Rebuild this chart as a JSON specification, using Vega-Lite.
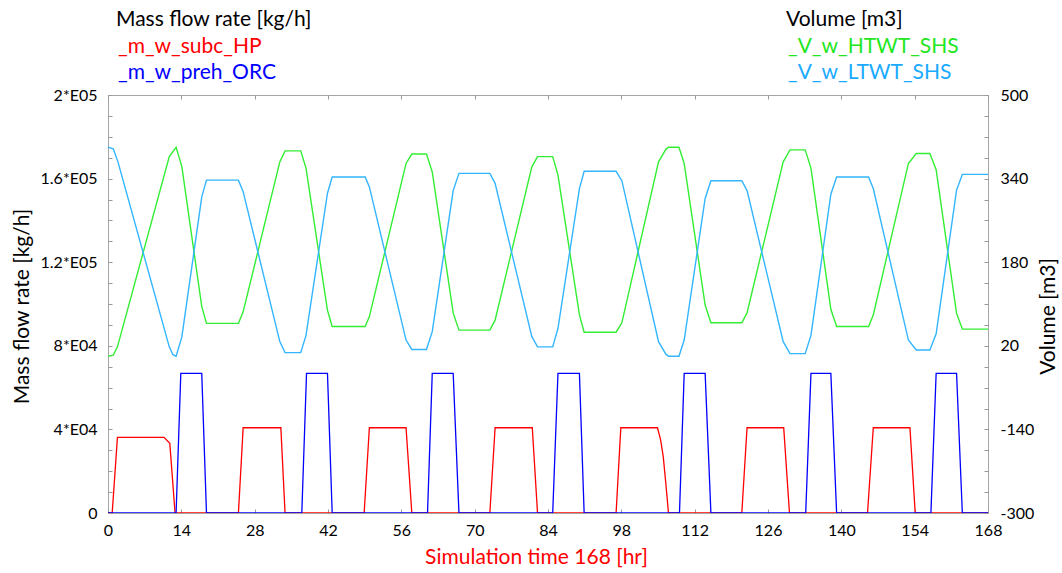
{
  "$schema": "https://vega.github.io/schema/vega-lite/v6.json",
  "width": 880,
  "height": 418,
  "autosize": {"type": "none"},
  "padding": {"left": 108, "top": 95, "right": 74, "bottom": 60},
  "background": "white",
  "config": {
    "font": "Lato",
    "view": {"stroke": "#a6a6a6", "strokeWidth": 1},
    "axis": {
      "domain": false,
      "grid": false,
      "labelFont": "Lato",
      "labelFontSize": 16,
      "labelColor": "#000000",
      "labelOverlap": false,
      "labelFlush": false,
      "titleFont": "Lato",
      "titleFontWeight": "normal",
      "titleFontSize": 21,
      "titleColor": "#000000",
      "tickColor": "#999999",
      "tickSize": -4
    },
    "legend": {"titleLimit": 500, "labelLimit": 500}
  },
  "datasets": {
    "mass": [
      {"t": 0, "v": 0, "s": "_m_w_subc_HP"},
      {"t": 0.8, "v": 0, "s": "_m_w_subc_HP"},
      {"t": 1.8, "v": 36200, "s": "_m_w_subc_HP"},
      {"t": 10.7, "v": 36200, "s": "_m_w_subc_HP"},
      {"t": 11.8, "v": 33300, "s": "_m_w_subc_HP"},
      {"t": 12.8, "v": 0, "s": "_m_w_subc_HP"},
      {"t": 24.9, "v": 0, "s": "_m_w_subc_HP"},
      {"t": 25.8, "v": 40800, "s": "_m_w_subc_HP"},
      {"t": 33.0, "v": 40800, "s": "_m_w_subc_HP"},
      {"t": 33.8, "v": 0, "s": "_m_w_subc_HP"},
      {"t": 48.9, "v": 0, "s": "_m_w_subc_HP"},
      {"t": 49.9, "v": 40800, "s": "_m_w_subc_HP"},
      {"t": 56.9, "v": 40800, "s": "_m_w_subc_HP"},
      {"t": 58.0, "v": 0, "s": "_m_w_subc_HP"},
      {"t": 72.9, "v": 0, "s": "_m_w_subc_HP"},
      {"t": 73.9, "v": 40800, "s": "_m_w_subc_HP"},
      {"t": 81.0, "v": 40800, "s": "_m_w_subc_HP"},
      {"t": 82.0, "v": 0, "s": "_m_w_subc_HP"},
      {"t": 97.0, "v": 0, "s": "_m_w_subc_HP"},
      {"t": 97.9, "v": 40800, "s": "_m_w_subc_HP"},
      {"t": 104.9, "v": 40800, "s": "_m_w_subc_HP"},
      {"t": 105.5, "v": 35000, "s": "_m_w_subc_HP"},
      {"t": 106.0, "v": 27000, "s": "_m_w_subc_HP"},
      {"t": 106.5, "v": 14000, "s": "_m_w_subc_HP"},
      {"t": 107.0, "v": 0, "s": "_m_w_subc_HP"},
      {"t": 121.0, "v": 0, "s": "_m_w_subc_HP"},
      {"t": 122.0, "v": 40800, "s": "_m_w_subc_HP"},
      {"t": 129.0, "v": 40800, "s": "_m_w_subc_HP"},
      {"t": 130.1, "v": 0, "s": "_m_w_subc_HP"},
      {"t": 145.0, "v": 0, "s": "_m_w_subc_HP"},
      {"t": 146.1, "v": 40800, "s": "_m_w_subc_HP"},
      {"t": 153.1, "v": 40800, "s": "_m_w_subc_HP"},
      {"t": 154.1, "v": 0, "s": "_m_w_subc_HP"},
      {"t": 168, "v": 0, "s": "_m_w_subc_HP"},
      {"t": 0, "v": 0, "s": "_m_w_preh_ORC"},
      {"t": 13.0, "v": 0, "s": "_m_w_preh_ORC"},
      {"t": 13.9, "v": 66800, "s": "_m_w_preh_ORC"},
      {"t": 17.9, "v": 66800, "s": "_m_w_preh_ORC"},
      {"t": 18.8, "v": 0, "s": "_m_w_preh_ORC"},
      {"t": 37.0, "v": 0, "s": "_m_w_preh_ORC"},
      {"t": 37.9, "v": 66800, "s": "_m_w_preh_ORC"},
      {"t": 41.9, "v": 66800, "s": "_m_w_preh_ORC"},
      {"t": 42.8, "v": 0, "s": "_m_w_preh_ORC"},
      {"t": 61.0, "v": 0, "s": "_m_w_preh_ORC"},
      {"t": 61.9, "v": 66800, "s": "_m_w_preh_ORC"},
      {"t": 65.9, "v": 66800, "s": "_m_w_preh_ORC"},
      {"t": 67.0, "v": 0, "s": "_m_w_preh_ORC"},
      {"t": 84.9, "v": 0, "s": "_m_w_preh_ORC"},
      {"t": 85.9, "v": 66800, "s": "_m_w_preh_ORC"},
      {"t": 90.0, "v": 66800, "s": "_m_w_preh_ORC"},
      {"t": 90.9, "v": 0, "s": "_m_w_preh_ORC"},
      {"t": 109.1, "v": 0, "s": "_m_w_preh_ORC"},
      {"t": 110.0, "v": 66800, "s": "_m_w_preh_ORC"},
      {"t": 114.0, "v": 66800, "s": "_m_w_preh_ORC"},
      {"t": 115.1, "v": 0, "s": "_m_w_preh_ORC"},
      {"t": 133.2, "v": 0, "s": "_m_w_preh_ORC"},
      {"t": 134.2, "v": 66800, "s": "_m_w_preh_ORC"},
      {"t": 138.0, "v": 66800, "s": "_m_w_preh_ORC"},
      {"t": 139.1, "v": 0, "s": "_m_w_preh_ORC"},
      {"t": 157.1, "v": 0, "s": "_m_w_preh_ORC"},
      {"t": 158.1, "v": 66800, "s": "_m_w_preh_ORC"},
      {"t": 162.0, "v": 66800, "s": "_m_w_preh_ORC"},
      {"t": 163.1, "v": 0, "s": "_m_w_preh_ORC"},
      {"t": 168, "v": 0, "s": "_m_w_preh_ORC"}
    ],
    "vol": [
      {"t": 0, "v": 0, "s": "_V_w_HTWT_SHS"},
      {"t": 1.0, "v": 2, "s": "_V_w_HTWT_SHS"},
      {"t": 1.8, "v": 18, "s": "_V_w_HTWT_SHS"},
      {"t": 11.7, "v": 382, "s": "_V_w_HTWT_SHS"},
      {"t": 13.0, "v": 400, "s": "_V_w_HTWT_SHS"},
      {"t": 14.1, "v": 363, "s": "_V_w_HTWT_SHS"},
      {"t": 17.9, "v": 95, "s": "_V_w_HTWT_SHS"},
      {"t": 18.8, "v": 63, "s": "_V_w_HTWT_SHS"},
      {"t": 24.9, "v": 63, "s": "_V_w_HTWT_SHS"},
      {"t": 25.8, "v": 85, "s": "_V_w_HTWT_SHS"},
      {"t": 32.8, "v": 372, "s": "_V_w_HTWT_SHS"},
      {"t": 33.8, "v": 393, "s": "_V_w_HTWT_SHS"},
      {"t": 36.8, "v": 393, "s": "_V_w_HTWT_SHS"},
      {"t": 37.8, "v": 360, "s": "_V_w_HTWT_SHS"},
      {"t": 41.9, "v": 88, "s": "_V_w_HTWT_SHS"},
      {"t": 42.8, "v": 57, "s": "_V_w_HTWT_SHS"},
      {"t": 49.1, "v": 57, "s": "_V_w_HTWT_SHS"},
      {"t": 49.9, "v": 76, "s": "_V_w_HTWT_SHS"},
      {"t": 56.9, "v": 369, "s": "_V_w_HTWT_SHS"},
      {"t": 58.0, "v": 387, "s": "_V_w_HTWT_SHS"},
      {"t": 60.8, "v": 387, "s": "_V_w_HTWT_SHS"},
      {"t": 61.9, "v": 353, "s": "_V_w_HTWT_SHS"},
      {"t": 65.9, "v": 83, "s": "_V_w_HTWT_SHS"},
      {"t": 67.0, "v": 50, "s": "_V_w_HTWT_SHS"},
      {"t": 72.9, "v": 50, "s": "_V_w_HTWT_SHS"},
      {"t": 73.9, "v": 69, "s": "_V_w_HTWT_SHS"},
      {"t": 80.9, "v": 362, "s": "_V_w_HTWT_SHS"},
      {"t": 82.0, "v": 382, "s": "_V_w_HTWT_SHS"},
      {"t": 84.9, "v": 382, "s": "_V_w_HTWT_SHS"},
      {"t": 85.9, "v": 347, "s": "_V_w_HTWT_SHS"},
      {"t": 90.0, "v": 79, "s": "_V_w_HTWT_SHS"},
      {"t": 90.9, "v": 46, "s": "_V_w_HTWT_SHS"},
      {"t": 97.0, "v": 46, "s": "_V_w_HTWT_SHS"},
      {"t": 98.1, "v": 64, "s": "_V_w_HTWT_SHS"},
      {"t": 105.1, "v": 372, "s": "_V_w_HTWT_SHS"},
      {"t": 106.5, "v": 396, "s": "_V_w_HTWT_SHS"},
      {"t": 107.0, "v": 400, "s": "_V_w_HTWT_SHS"},
      {"t": 109.0, "v": 400, "s": "_V_w_HTWT_SHS"},
      {"t": 110.0, "v": 369, "s": "_V_w_HTWT_SHS"},
      {"t": 114.0, "v": 98, "s": "_V_w_HTWT_SHS"},
      {"t": 115.1, "v": 64, "s": "_V_w_HTWT_SHS"},
      {"t": 121.0, "v": 64, "s": "_V_w_HTWT_SHS"},
      {"t": 122.0, "v": 83, "s": "_V_w_HTWT_SHS"},
      {"t": 128.9, "v": 372, "s": "_V_w_HTWT_SHS"},
      {"t": 130.2, "v": 395, "s": "_V_w_HTWT_SHS"},
      {"t": 133.1, "v": 395, "s": "_V_w_HTWT_SHS"},
      {"t": 134.2, "v": 360, "s": "_V_w_HTWT_SHS"},
      {"t": 138.0, "v": 90, "s": "_V_w_HTWT_SHS"},
      {"t": 139.1, "v": 57, "s": "_V_w_HTWT_SHS"},
      {"t": 145.2, "v": 57, "s": "_V_w_HTWT_SHS"},
      {"t": 146.1, "v": 79, "s": "_V_w_HTWT_SHS"},
      {"t": 152.8, "v": 369, "s": "_V_w_HTWT_SHS"},
      {"t": 154.3, "v": 388, "s": "_V_w_HTWT_SHS"},
      {"t": 156.9, "v": 388, "s": "_V_w_HTWT_SHS"},
      {"t": 158.1, "v": 357, "s": "_V_w_HTWT_SHS"},
      {"t": 162.0, "v": 82, "s": "_V_w_HTWT_SHS"},
      {"t": 163.1, "v": 52, "s": "_V_w_HTWT_SHS"},
      {"t": 168, "v": 52, "s": "_V_w_HTWT_SHS"},
      {"t": 0, "v": 400, "s": "_V_w_LTWT_SHS"},
      {"t": 1.0, "v": 397, "s": "_V_w_LTWT_SHS"},
      {"t": 1.9, "v": 372, "s": "_V_w_LTWT_SHS"},
      {"t": 11.7, "v": 18, "s": "_V_w_LTWT_SHS"},
      {"t": 12.4, "v": 3, "s": "_V_w_LTWT_SHS"},
      {"t": 13.0, "v": 0, "s": "_V_w_LTWT_SHS"},
      {"t": 14.1, "v": 37, "s": "_V_w_LTWT_SHS"},
      {"t": 17.9, "v": 305, "s": "_V_w_LTWT_SHS"},
      {"t": 18.8, "v": 337, "s": "_V_w_LTWT_SHS"},
      {"t": 24.9, "v": 337, "s": "_V_w_LTWT_SHS"},
      {"t": 25.8, "v": 315, "s": "_V_w_LTWT_SHS"},
      {"t": 32.8, "v": 28, "s": "_V_w_LTWT_SHS"},
      {"t": 33.8, "v": 7, "s": "_V_w_LTWT_SHS"},
      {"t": 36.8, "v": 7, "s": "_V_w_LTWT_SHS"},
      {"t": 37.8, "v": 40, "s": "_V_w_LTWT_SHS"},
      {"t": 41.9, "v": 312, "s": "_V_w_LTWT_SHS"},
      {"t": 42.8, "v": 343, "s": "_V_w_LTWT_SHS"},
      {"t": 49.1, "v": 343, "s": "_V_w_LTWT_SHS"},
      {"t": 49.9, "v": 324, "s": "_V_w_LTWT_SHS"},
      {"t": 56.9, "v": 31, "s": "_V_w_LTWT_SHS"},
      {"t": 58.0, "v": 13, "s": "_V_w_LTWT_SHS"},
      {"t": 60.8, "v": 13, "s": "_V_w_LTWT_SHS"},
      {"t": 61.9, "v": 47, "s": "_V_w_LTWT_SHS"},
      {"t": 65.9, "v": 317, "s": "_V_w_LTWT_SHS"},
      {"t": 67.0, "v": 350, "s": "_V_w_LTWT_SHS"},
      {"t": 72.9, "v": 350, "s": "_V_w_LTWT_SHS"},
      {"t": 73.9, "v": 331, "s": "_V_w_LTWT_SHS"},
      {"t": 80.9, "v": 38, "s": "_V_w_LTWT_SHS"},
      {"t": 82.0, "v": 18, "s": "_V_w_LTWT_SHS"},
      {"t": 84.9, "v": 18, "s": "_V_w_LTWT_SHS"},
      {"t": 85.9, "v": 53, "s": "_V_w_LTWT_SHS"},
      {"t": 90.0, "v": 321, "s": "_V_w_LTWT_SHS"},
      {"t": 90.9, "v": 354, "s": "_V_w_LTWT_SHS"},
      {"t": 97.0, "v": 354, "s": "_V_w_LTWT_SHS"},
      {"t": 98.1, "v": 336, "s": "_V_w_LTWT_SHS"},
      {"t": 105.1, "v": 28, "s": "_V_w_LTWT_SHS"},
      {"t": 106.5, "v": 4, "s": "_V_w_LTWT_SHS"},
      {"t": 107.0, "v": 0, "s": "_V_w_LTWT_SHS"},
      {"t": 109.0, "v": 0, "s": "_V_w_LTWT_SHS"},
      {"t": 110.0, "v": 31, "s": "_V_w_LTWT_SHS"},
      {"t": 114.0, "v": 302, "s": "_V_w_LTWT_SHS"},
      {"t": 115.1, "v": 336, "s": "_V_w_LTWT_SHS"},
      {"t": 121.0, "v": 336, "s": "_V_w_LTWT_SHS"},
      {"t": 122.0, "v": 317, "s": "_V_w_LTWT_SHS"},
      {"t": 128.9, "v": 28, "s": "_V_w_LTWT_SHS"},
      {"t": 130.2, "v": 5, "s": "_V_w_LTWT_SHS"},
      {"t": 133.1, "v": 5, "s": "_V_w_LTWT_SHS"},
      {"t": 134.2, "v": 40, "s": "_V_w_LTWT_SHS"},
      {"t": 138.0, "v": 310, "s": "_V_w_LTWT_SHS"},
      {"t": 139.1, "v": 343, "s": "_V_w_LTWT_SHS"},
      {"t": 145.2, "v": 343, "s": "_V_w_LTWT_SHS"},
      {"t": 146.1, "v": 321, "s": "_V_w_LTWT_SHS"},
      {"t": 152.8, "v": 31, "s": "_V_w_LTWT_SHS"},
      {"t": 154.3, "v": 12, "s": "_V_w_LTWT_SHS"},
      {"t": 156.9, "v": 12, "s": "_V_w_LTWT_SHS"},
      {"t": 158.1, "v": 43, "s": "_V_w_LTWT_SHS"},
      {"t": 162.0, "v": 318, "s": "_V_w_LTWT_SHS"},
      {"t": 163.1, "v": 348, "s": "_V_w_LTWT_SHS"},
      {"t": 168, "v": 348, "s": "_V_w_LTWT_SHS"}
    ]
  },
  "layer": [
    {
      "data": {"name": "mass"},
      "mark": {"type": "line", "strokeWidth": 1.3, "clip": true},
      "encoding": {
        "x": {
          "field": "t", "type": "quantitative",
          "scale": {"domain": [0, 168], "nice": false, "zero": false},
          "axis": {
            "orient": "bottom",
            "values": [0, 14, 28, 42, 56, 70, 84, 98, 112, 126, 140, 154, 168],
            "labelPadding": 13,
            "title": "Simulation time 168 [hr]",
            "titleColor": "#ff0000",
            "titleX": 428,
            "titleY": 44,
            "titleAlign": "center",
            "titleBaseline": "middle"
          }
        },
        "y": {
          "field": "v", "type": "quantitative",
          "scale": {"domain": [0, 200000], "nice": false, "zero": false},
          "axis": {
            "orient": "left",
            "values": [0, 10000, 20000, 30000, 40000, 50000, 60000, 70000, 80000, 90000, 100000, 110000, 120000, 130000, 140000, 150000, 160000, 170000, 180000, 190000, 200000],
            "labelExpr": "datum.value == 0 ? '0' : datum.value == 40000 ? '4*E04' : datum.value == 80000 ? '8*E04' : datum.value == 120000 ? '1.2*E05' : datum.value == 160000 ? '1.6*E05' : datum.value == 200000 ? '2*E05' : ''",
            "labelPadding": 15,
            "title": "Mass flow rate [kg/h]",
            "titleX": -86,
            "titleY": 211,
            "titleAngle": 270,
            "titleAlign": "center",
            "titleBaseline": "middle"
          }
        },
        "color": {
          "field": "s", "type": "nominal",
          "scale": {"domain": ["_m_w_subc_HP", "_m_w_preh_ORC"], "range": ["#ff0000", "#0000ff"]},
          "legend": {
            "orient": "none",
            "legendX": 8,
            "legendY": -86,
            "title": "Mass flow rate [kg/h]",
            "titleFont": "Lato",
            "titleFontSize": 21,
            "titleFontWeight": "normal",
            "titleColor": "#000000",
            "titlePadding": 6,
            "titleLimit": 500,
            "labelFont": "Lato",
            "labelFontSize": 21,
            "labelLimit": 500,
            "labelColor": {"expr": "datum.value == '_m_w_subc_HP' ? '#ff0000' : '#0000ff'"},
            "labelOffset": -19,
            "symbolSize": 0,
            "symbolOpacity": 0,
            "symbolStrokeWidth": 0,
            "rowPadding": 4
          }
        }
      }
    },
    {
      "data": {"name": "vol"},
      "mark": {"type": "line", "strokeWidth": 1.4, "clip": true},
      "encoding": {
        "x": {
          "field": "t", "type": "quantitative",
          "scale": {"domain": [0, 168], "nice": false, "zero": false},
          "axis": {
            "orient": "top",
            "values": [0, 14, 28, 42, 56, 70, 84, 98, 112, 126, 140, 154, 168],
            "labels": false,
            "title": null
          }
        },
        "y": {
          "field": "v", "type": "quantitative",
          "scale": {"domain": [-300, 500], "nice": false, "zero": false},
          "axis": {
            "orient": "right",
            "values": [-300, -260, -220, -180, -140, -100, -60, -20, 20, 60, 100, 140, 180, 220, 260, 300, 340, 380, 420, 460, 500],
            "labelExpr": "(datum.value + 300) % 160 == 0 ? datum.value + '' : ''",
            "labelPadding": 16,
            "title": "Volume [m3]",
            "titleX": 60,
            "titleY": 221,
            "titleAngle": 270,
            "titleAlign": "center",
            "titleBaseline": "middle"
          }
        },
        "color": {
          "field": "s", "type": "nominal",
          "scale": {"domain": ["_V_w_HTWT_SHS", "_V_w_LTWT_SHS"], "range": ["#33ee33", "#33b5ff"]},
          "legend": {
            "orient": "none",
            "legendX": 678,
            "legendY": -86,
            "title": "Volume [m3]",
            "titleFont": "Lato",
            "titleFontSize": 21,
            "titleFontWeight": "normal",
            "titleColor": "#000000",
            "titlePadding": 6,
            "titleLimit": 500,
            "labelFont": "Lato",
            "labelFontSize": 21,
            "labelLimit": 500,
            "labelColor": {"expr": "datum.value == '_V_w_HTWT_SHS' ? '#22e622' : '#1aaaff'"},
            "labelOffset": -19,
            "symbolSize": 0,
            "symbolOpacity": 0,
            "symbolStrokeWidth": 0,
            "rowPadding": 4
          }
        }
      }
    }
  ],
  "resolve": {
    "scale": {"x": "independent", "y": "independent", "color": "independent"},
    "axis": {"x": "independent", "y": "independent"}
  }
}
